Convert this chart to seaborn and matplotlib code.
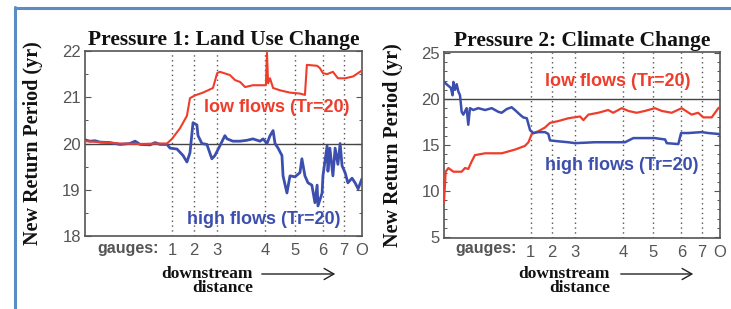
import numpy as np
import pandas as pd
import matplotlib
matplotlib.use("Agg")
import matplotlib.pyplot as plt
import seaborn as sns
from matplotlib.lines import Line2D
from matplotlib.patches import FancyArrowPatch
from matplotlib.ticker import MultipleLocator

# ---------------- data (x = downstream distance, % of river length) ----------------
gauge_pos = [31.4, 39.2, 47.6, 65.0, 75.8, 86.0, 93.4, 100.0]
gauge_labels = ["1", "2", "3", "4", "5", "6", "7", "O"]

# Pressure 1: Land use change
lu_low_x = [0, 5.4, 12.6, 19.9, 27.1, 29.6, 31.4, 34.3, 36.8, 37.9, 39.7, 42.6, 46.2, 47.7, 48.7,
            52.3, 54.2, 56.0, 57.8, 60.6, 64.3, 65.3, 65.7, 66.1, 66.8, 67.9, 70.4, 74.0, 77.6,
            79.4, 80.1, 83.8, 84.8, 85.9, 87.4, 89.5, 91.3, 93.9, 96.8, 100]
lu_low_y = [20.05, 20.03, 20.0, 19.99, 20.0, 20.0, 20.1, 20.33, 20.6, 20.98, 21.04, 21.1, 21.2, 21.52, 21.55,
            21.48, 21.37, 21.33, 21.22, 21.26, 21.26, 21.26, 21.96, 21.3, 21.41, 21.2, 21.15, 21.1, 21.08,
            21.05, 21.7, 21.68, 21.63, 21.52, 21.5, 21.55, 21.41, 21.41, 21.45, 21.58]

lu_high_x = [0, 1.8, 3.6, 5.4, 9.0, 12.6, 16.2, 18.1, 19.9, 23.5, 25.3, 27.1, 29.6, 30.7, 33.2, 35.4,
             36.8, 37.9, 39.0, 40.4, 40.8, 42.2, 44.0, 45.8, 46.9, 48.7, 50.5, 51.3, 53.4, 56.0, 58.5,
             60.6, 63.2, 64.3, 65.7, 66.8, 67.9, 68.6, 69.7, 71.1, 71.5, 72.9, 74.0, 75.8, 77.6, 78.3,
             79.4, 80.5, 81.9, 83.0, 83.8, 84.1, 85.6, 85.9, 87.4, 87.7, 88.4, 89.5, 90.3, 91.3, 92.1,
             92.8, 93.9, 94.9, 96.4, 97.5, 98.6, 100]
lu_high_y = [20.08, 20.05, 20.06, 20.03, 20.02, 19.98, 20.0, 20.05, 19.98, 19.97, 20.02, 19.98, 19.98, 19.9,
             19.88, 19.74, 19.6, 19.8, 20.45, 20.4, 20.17, 20.0, 19.98, 19.67, 19.74, 19.95, 20.17, 20.1,
             20.05, 20.05, 20.07, 20.1, 20.05, 20.1, 20.0, 20.17, 20.28, 20.0, 19.9, 19.74, 19.3, 18.93,
             19.3, 19.28, 19.37, 19.67, 19.3, 19.15, 19.1, 18.72, 19.1, 18.65, 18.93, 19.3, 19.95, 19.4,
             19.9, 19.3, 19.9, 19.55, 20.0, 19.52, 19.37, 19.15, 19.25, 19.15, 19.02, 19.24]

# Pressure 2: Climate change
cc_low_x = [0, 0.6, 1.6, 3.4, 6.4, 7.6, 8.8, 10.0, 11.2, 14.9, 18.5, 20.9, 23.3, 25.7, 27.5, 29.3,
            30.6, 31.8, 34.2, 36.6, 38.4, 41.4, 45.0, 49.3, 50.5, 52.3, 55.9, 59.5, 61.3, 64.4, 66.8,
            69.8, 72.8, 76.4, 78.9, 82.5, 86.1, 89.7, 92.1, 93.9, 97.0, 99.4, 100]
cc_low_y = [8.8, 12.1, 12.5, 12.1, 12.1, 12.5, 12.4, 13.2, 13.9, 14.1, 14.1, 14.1, 14.3, 14.5, 14.7, 14.9,
            15.3, 16.2, 16.5, 16.9, 17.4, 17.6, 17.9, 18.1, 17.7, 18.3, 18.5, 18.8, 18.5, 19.0, 18.7,
            18.5, 18.7, 19.0, 18.7, 18.5, 19.0, 18.3, 18.5, 18.0, 18.0, 19.0, 19.1]

cc_high_x = [0, 1.3, 2.5, 3.1, 3.4, 4.0, 4.6, 5.2, 5.8, 6.4, 7.0, 8.2, 8.8, 9.4, 10.6, 12.4, 14.9,
             17.3, 19.7, 20.9, 22.7, 24.5, 25.7, 27.5, 28.7, 30.0, 31.2, 32.4, 34.2, 36.6, 37.8, 38.4,
             41.4, 45.0, 47.5, 54.7, 62.0, 65.6, 68.6, 71.6, 76.4, 80.1, 80.7, 84.9, 85.9, 88.5, 93.4,
             95.7, 99.4, 100]
cc_high_y = [21.85, 21.5, 21.2, 20.4, 21.85, 21.0, 21.6, 20.8, 20.4, 18.6, 18.3, 19.0, 17.2, 19.0, 18.8,
             19.0, 18.8, 19.0, 18.6, 18.5, 18.9, 19.1, 18.8, 18.3, 18.0, 17.9, 16.6, 16.3, 16.4, 16.4,
             16.2, 15.5, 15.4, 15.3, 15.2, 15.3, 15.3, 15.3, 15.75, 15.75, 15.75, 15.6, 15.2, 15.1, 16.3,
             16.3, 16.4, 16.3, 16.2, 16.1]

titles = ["Pressure 1: Land Use Change", "Pressure 2: Climate Change"]
ylabel = "New Return Period (yr)"
low_label = "low flows (Tr=20)"
high_label = "high flows (Tr=20)"
dist_label = "downstream\ndistance"

# ---------------- style ----------------
sns.set_style("white")
plt.rcParams["font.family"] = ["Liberation Sans", "DejaVu Sans"]
RED = "#ef3d2c"
BLUE = "#3c4fae"
AX_COL = "#555555"
TICK_COL = "#555555"
SERIF = ["Liberation Serif", "DejaVu Serif"]

fig = plt.figure(figsize=(7.31, 3.09), dpi=100)
W, H = 731, 309

def ax_rect(x0, x1, ytop, ybot):
    return [x0 / W, (H - ybot) / H, (x1 - x0) / W, (ybot - ytop) / H]

ax1 = fig.add_axes(ax_rect(85, 362, 51, 236))
ax2 = fig.add_axes(ax_rect(444, 720, 52, 238))

panels = [
    (ax1, lu_low_x, lu_low_y, lu_high_x, lu_high_y, (18, 22), 1, 0.5,
     (69.3, 20.77), (64.6, 18.35), 128),
    (ax2, cc_low_x, cc_low_y, cc_high_x, cc_high_y, (4.9, 25.1), 5, 1,
     (63.0, 21.85), (64.5, 12.8), 486),
]

for i, (ax, lx, ly, hx, hy, ylim, major, minor, lowpos, highpos, gx) in enumerate(panels):
    df_low = pd.DataFrame({"x": lx, "y": ly})
    df_high = pd.DataFrame({"x": hx, "y": hy})
    ax.axhline(20, color="#444444", lw=1.0, zorder=1)
    if i == 0:
        sns.lineplot(data=df_high, x="x", y="y", ax=ax, color=BLUE, lw=2.0, estimator=None, sort=False, zorder=3)
        sns.lineplot(data=df_low, x="x", y="y", ax=ax, color=RED, lw=1.5, estimator=None, sort=False, zorder=4)
    else:
        sns.lineplot(data=df_low, x="x", y="y", ax=ax, color=RED, lw=1.6, estimator=None, sort=False, zorder=3)
        sns.lineplot(data=df_high, x="x", y="y", ax=ax, color=BLUE, lw=1.8, estimator=None, sort=False, zorder=4)

    ax.set_xlim(0, 100)
    ax.set_ylim(*ylim)
    ax.set_xticks(gauge_pos)
    ax.set_xticklabels(gauge_labels)
    for gp in gauge_pos[:-1]:
        ax.axvline(gp, color="#555555", lw=1.0, ls=(0, (1, 2.5)), zorder=0)
    ax.yaxis.set_major_locator(MultipleLocator(major))
    ax.yaxis.set_minor_locator(MultipleLocator(minor))
    ax.tick_params(axis="y", which="major", direction="in", length=4, width=0.8,
                   left=True, right=True, labelsize=12, colors=AX_COL, labelcolor=TICK_COL, pad=3)
    ax.tick_params(axis="y", which="minor", direction="in", length=2.5, width=0.7,
                   left=True, right=True, colors=AX_COL)
    ax.tick_params(axis="x", length=0, labelsize=12, labelcolor=TICK_COL, pad=5)
    for sp in ax.spines.values():
        sp.set_color(AX_COL)
        sp.set_linewidth(1.2)
    ax.set_xlabel("")
    ax.set_ylabel(ylabel, family=SERIF, fontweight="bold", fontsize=14.5, color="#111111")
    ax.yaxis.set_label_coords(-0.15, 0.5)
    ax.set_title(titles[i], family=SERIF, fontweight="bold", fontsize=15.5, color="#111111", pad=4)

    ax.text(lowpos[0], lowpos[1], low_label, color=RED, fontsize=13, fontweight="bold",
            ha="center", va="center")
    ax.text(highpos[0], highpos[1], high_label, color=BLUE, fontsize=13, fontweight="bold",
            ha="center", va="center")

    fig.text(gx / W, 1 - 249 / H, "gauges:", color=TICK_COL, fontsize=11.5, fontweight="bold",
             ha="center", va="center")

# downstream distance annotations
for (txt_right, arr_x0, arr_x1) in [(253, 259, 338), (610, 618, 696)]:
    fig.text(txt_right / W, 1 - 281 / H, dist_label, family=SERIF, fontweight="bold",
             fontsize=12.5, ha="right", va="center", multialignment="right", linespacing=0.82,
             color="#111111")
    fig.add_artist(FancyArrowPatch(
        (arr_x0 / W, 1 - 274 / H), (arr_x1 / W, 1 - 274 / H), transform=fig.transFigure,
        arrowstyle="->,head_length=7,head_width=4", color="#222222", lw=1.0, mutation_scale=1))

# frame lines of the figure box
fig.add_artist(Line2D([15 / W, 15 / W], [0, 1 - 7 / H], transform=fig.transFigure,
                      color="#5b8dc2", lw=2.2))
fig.add_artist(Line2D([15 / W, 1], [1 - 8 / H, 1 - 8 / H], transform=fig.transFigure,
                      color="#5b8dc2", lw=2.2))

fig.savefig("out.png", dpi=100)
